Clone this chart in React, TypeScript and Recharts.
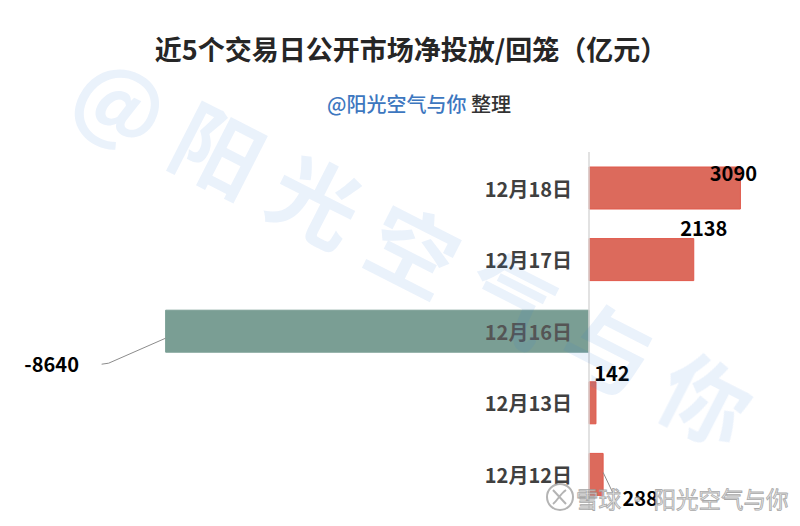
import React from 'react';
import { BarChart, Bar, XAxis, YAxis, Cell, LabelList, ReferenceLine } from 'recharts';

const dates = ['12月18日', '12月17日', '12月16日', '12月13日', '12月12日'];
const values = [3090, 2138, -8640, 142, 288];

const data = dates.map((d, i) => ({ date: d, value: values[i] }));

const FONT = "'Noto Sans CJK SC', 'Noto Sans', sans-serif";
const POS = '#dc6a5c';
const NEG = '#7a9e94';

// label placement relative to bar end / bar top (hand-placed labels in the source)
const labelPlace = [
  { dx: -7, dy: 5, lead: null },
  { dx: 10, dy: -11, lead: null },
  { dx: -114, dy: 53, lead: 'neg' },
  { dx: 16, dy: -9, lead: null },
  { dx: 37, dy: 44, lead: 'pos' },
];

function geom(props: any) {
  const vb = props.viewBox || {};
  const x = props.x ?? vb.x;
  const y = props.y ?? vb.y;
  const w = props.width ?? vb.width;
  const h = props.height ?? vb.height;
  const idx = props.index ?? 0;
  const v = values[idx];
  const lo = Math.min(x, x + w);
  const hi = Math.max(x, x + w);
  const zeroX = v >= 0 ? lo : hi;
  const endX = v >= 0 ? hi : lo;
  const top = Math.min(y, y + h);
  const hh = Math.abs(h);
  return { zeroX, endX, top, hh, idx, v };
}

const CategoryLabel = (props: any) => {
  const { zeroX, top, hh, idx } = geom(props);
  return (
    <text x={zeroX - 17} y={top + hh / 2} textAnchor="end" dominantBaseline="central"
      fontFamily={FONT} fontWeight={700} fontSize={20} fill={idx === 2 ? '#555555' : '#404040'}>
      {dates[idx]}
    </text>
  );
};

const ValueLabel = (props: any) => {
  const { endX, top, hh, idx, v } = geom(props);
  const p = labelPlace[idx];
  const cx = endX + p.dx;
  const cy = top + p.dy;
  let lead: any = null;
  if (p.lead === 'neg') {
    const pts = `${endX},${top + 28} ${endX - 57},${top + 53} ${endX - 64},${top + 54}`;
    lead = <polyline points={pts} fill="none" stroke="#8c8c8c" strokeWidth={1} />;
  } else if (p.lead === 'pos') {
    lead = <line x1={endX} y1={top + 19} x2={endX + 10} y2={top + 40} stroke="#8c8c8c" strokeWidth={1} />;
  }
  return (
    <g>
      {lead}
      <text x={cx} y={cy} textAnchor="middle" dominantBaseline="central"
        fontFamily={FONT} fontWeight={700} fontSize={20} fill="#000">
        {v}
      </text>
    </g>
  );
};

const wmChars = ['@', '阳', '光', '空', '气', '与', '你'];

export default function App() {
  return (
    <div style={{ position: 'absolute', left: 0, top: 0, width: 800, height: 526, background: '#fff', overflow: 'hidden' }}>
      <svg width={800} height={526} style={{ position: 'absolute', left: 0, top: 0 }}>
        <text x={411} y={48} textAnchor="middle" dominantBaseline="central" fontFamily={FONT}
          fontWeight={700} fontSize={27} fill="#262626">近5个交易日公开市场净投放/回笼（亿元）</text>
        <text x={419} y={103} textAnchor="middle" dominantBaseline="central" fontFamily={FONT}
          fontWeight={500} fontSize={20}>
          <tspan fill="#3d77bf">@阳光空气与你</tspan>
          <tspan fill="#333333"> 整理</tspan>
        </text>
      </svg>
      <div style={{ position: 'absolute', left: 0, top: 0 }}>
        <BarChart width={800} height={526} data={data} layout="vertical"
          margin={{ top: 152, right: 15, bottom: 16, left: 99 }}>
          <XAxis type="number" domain={[-10000, 4000]} hide />
          <YAxis type="category" dataKey="date" hide />
          <ReferenceLine x={0} stroke="#d9d9d9" strokeWidth={1.5} />
          <Bar dataKey="value" barSize={42} isAnimationActive={false}>
            {data.map((d, i) => (
              <Cell key={i} fill={d.value >= 0 ? POS : NEG} stroke={d.value >= 0 ? '#e0584b' : NEG} strokeWidth={1} />
            ))}
            <LabelList dataKey="date" content={CategoryLabel} />
            <LabelList dataKey="value" content={ValueLabel} />
          </Bar>
        </BarChart>
      </div>
      <svg width={800} height={526} style={{ position: 'absolute', left: 0, top: 0, pointerEvents: 'none' }}>
        <g opacity={0.1} fill="#2f7ad8" fontFamily={FONT} fontWeight={700} fontSize={88}>
          {wmChars.map((c, i) => {
            const cx = 123 + i * 97.5;
            const cy = 97 + i * 49.7;
            return (
              <text key={i} x={cx} y={cy} textAnchor="middle" dominantBaseline="central"
                transform={`rotate(27 ${cx} ${cy})`}>{c}</text>
            );
          })}
        </g>
        <g opacity={0.85}>
          <circle cx={560} cy={497} r={13} fill="none" stroke="#a8a8a8" strokeWidth={2} />
          <path d="M553,490 L566,504 M566,490 C560,494 558,500 553,504" fill="none" stroke="#a8a8a8" strokeWidth={2} />
          <text x={576} y={498} dominantBaseline="central" fontFamily={FONT} fontSize={22.5}
            fill="#e6e6e6" stroke="#9a9a9a" strokeWidth={0.8}>雪球 · 阳光空气与你</text>
        </g>
      </svg>
    </div>
  );
}
